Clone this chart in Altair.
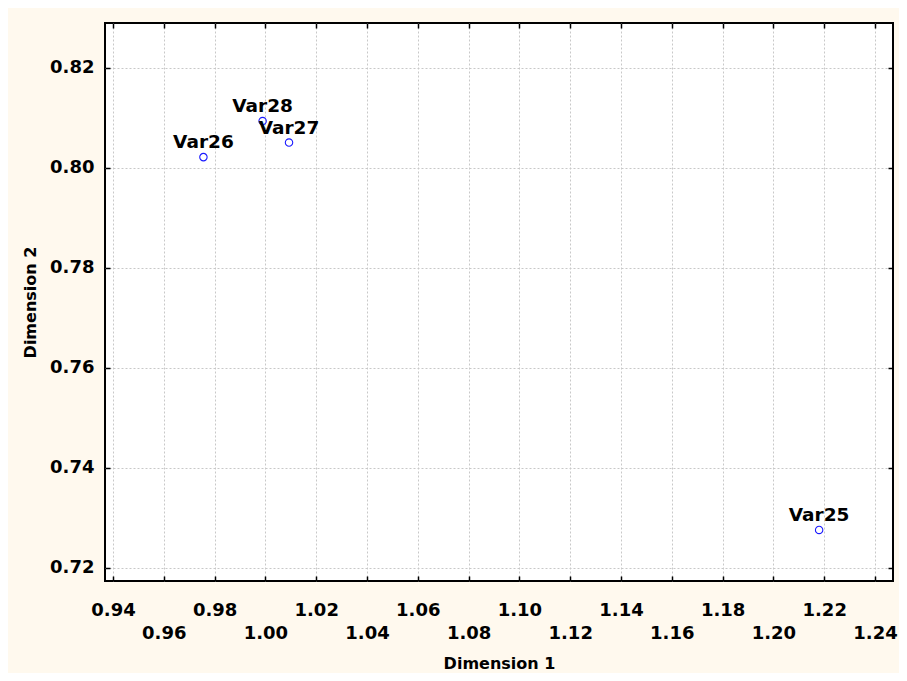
import altair as alt
import pandas as pd

labels = ["Var25", "Var26", "Var27", "Var28"]
dim1 = [1.218, 0.9756, 1.0093, 0.9989]
dim2 = [0.7276, 0.8021, 0.8050, 0.8093]

x_row1 = [0.94, 0.98, 1.02, 1.06, 1.10, 1.14, 1.18, 1.22]
x_row2 = [0.96, 1.00, 1.04, 1.08, 1.12, 1.16, 1.20, 1.24]
x_all = sorted(x_row1 + x_row2)
y_ticks = [0.72, 0.74, 0.76, 0.78, 0.80, 0.82]

df = pd.DataFrame({"label": labels, "d1": dim1, "d2": dim2})

FONT = "DejaVu Sans"
xscale = alt.Scale(domain=[0.93685, 1.24709], nice=False, zero=False)
yscale = alt.Scale(domain=[0.7174, 0.8289], nice=False, zero=False)

def ghost(xaxis, yaxis):
    return alt.Chart(df).mark_point(opacity=0, size=1).encode(
        x=alt.X("d1:Q", scale=xscale, axis=xaxis),
        y=alt.Y("d2:Q", scale=yscale, axis=yaxis),
    )

LAB = 18
lab_common = dict(labelFont=FONT, labelFontWeight="bold", labelFontSize=LAB,
                  labelColor="black", domain=False, ticks=False, grid=False,
                  format=".2f")

x_row1_axis = alt.Axis(orient="bottom", values=x_row1, title=None,
                       labelPadding=20, labelOverlap=False, **lab_common)
x_row2_axis = alt.Axis(orient="bottom", values=x_row2, title="Dimension 1",
                       labelPadding=43, labelOverlap=False,
                       titleFont=FONT, titleFontSize=16, titleFontWeight="bold",
                       titleColor="black", titlePadding=13, **lab_common)
tick_common = dict(labels=False, domain=False, grid=False, ticks=True,
                   tickSize=5, tickColor="black", tickWidth=1.5, title=None,
                   offset=-5)
x_bot_ticks = alt.Axis(orient="bottom", values=x_all, **tick_common)
x_top_ticks = alt.Axis(orient="top", values=x_all, **tick_common)
x_grid = alt.Axis(orient="bottom", values=x_all, labels=False, domain=False,
                  ticks=False, grid=True, gridColor="#c8c8c8",
                  gridDash=[2, 2], gridWidth=1, title=None)

y_lab_axis = alt.Axis(orient="left", values=y_ticks, title="Dimension 2",
                      labelPadding=11, labelOverlap=False,
                      titleFont=FONT, titleFontSize=16, titleFontWeight="bold",
                      titleColor="black", titlePadding=11,
                      labelFont=FONT, labelFontWeight="bold", labelFontSize=LAB,
                      labelColor="black", domain=False, ticks=False,
                      grid=True, gridColor="#c8c8c8", gridDash=[2, 2],
                      gridWidth=1, format=".2f")
y_left_ticks = alt.Axis(orient="left", values=y_ticks, **tick_common)
y_right_ticks = alt.Axis(orient="right", values=y_ticks, **tick_common)

l1 = ghost(x_row1_axis, y_lab_axis)
l2 = ghost(x_row2_axis, y_left_ticks)
l3 = ghost(x_bot_ticks, y_right_ticks)
l4 = ghost(x_top_ticks, None)
l5 = ghost(x_grid, None)

pts = alt.Chart(df).mark_point(shape="circle", filled=False, color="#1a1aff",
                               size=55, strokeWidth=1.1, opacity=1).encode(
    x=alt.X("d1:Q", scale=xscale, axis=None),
    y=alt.Y("d2:Q", scale=yscale, axis=None),
)
txt = alt.Chart(df).mark_text(font=FONT, fontWeight="bold", fontSize=18.5,
                              color="black", dy=-9, baseline="alphabetic",
                              align="center").encode(
    x=alt.X("d1:Q", scale=xscale, axis=None),
    y=alt.Y("d2:Q", scale=yscale, axis=None),
    text="label:N",
)

chart = alt.layer(l5, l1, l2, l3, l4, pts, txt).resolve_axis(
    x="independent", y="independent"
).properties(
    width=788, height=558,
    autosize=alt.AutoSizeParams(type="none"),
    padding={"left": 97, "top": 15, "right": 6, "bottom": 92},
    background="#FFF9EE",
).configure_view(
    fill="white", stroke="black", strokeWidth=2
)

chart.save("out.html", embed_options={"renderer": "svg", "actions": False})
